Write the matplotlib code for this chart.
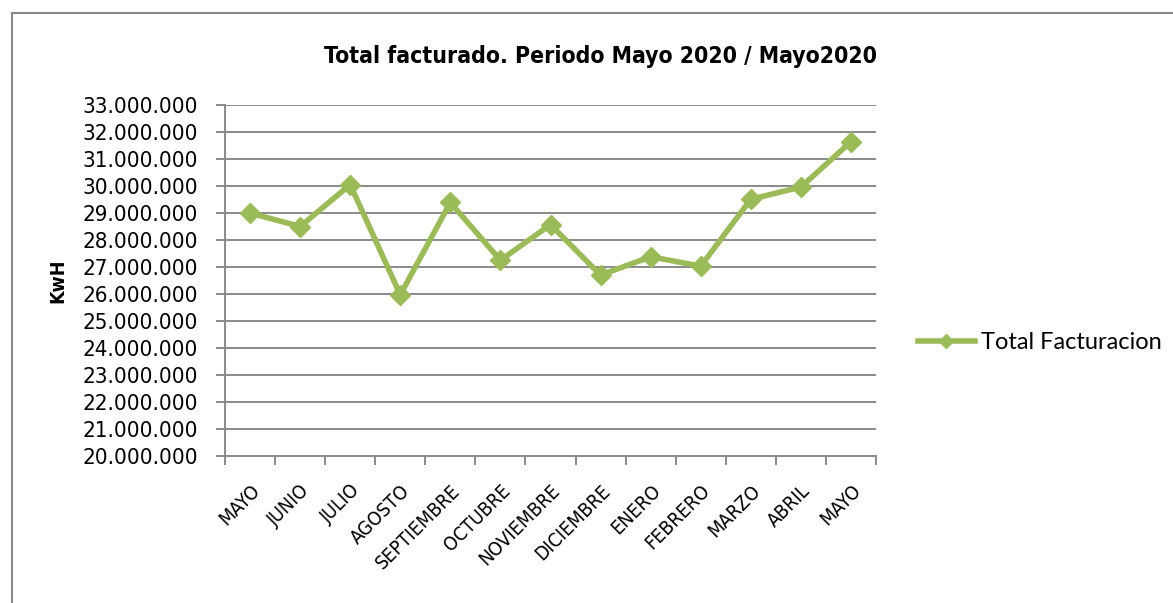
import matplotlib
matplotlib.use("Agg")
import matplotlib.pyplot as plt
from matplotlib.ticker import FuncFormatter, FixedLocator
from matplotlib.patches import Rectangle
from matplotlib.transforms import ScaledTranslation

# datos
meses = ['MAYO', 'JUNIO', 'JULIO', 'AGOSTO', 'SEPTIEMBRE', 'OCTUBRE', 'NOVIEMBRE',
         'DICIEMBRE', 'ENERO', 'FEBRERO', 'MARZO', 'ABRIL', 'MAYO']
total_facturacion = [29000000, 28500000, 30050000, 25970000, 29390000, 27250000, 28570000,
                     26700000, 27380000, 27030000, 29510000, 29960000, 31640000]

COLOR = '#9BBB59'
GRIS = '#8a8a8a'
COND = dict(family='DejaVu Sans', stretch='condensed')


def miles(v, pos):
    return f'{int(v):,}'.replace(',', '.')


def main():
    fig = plt.figure(figsize=(11.73, 6.03), dpi=100)
    fig.patches.append(Rectangle((12 / 1173, -0.1), 1.2, 1 - 13 / 603 + 0.1,
                                 transform=fig.transFigure, fill=False,
                                 edgecolor='#8a8a8a', linewidth=1.5))
    ax = fig.add_axes([225 / 1173, 1 - 456 / 603, 651 / 1173, 351 / 603])

    x = list(range(len(meses)))
    ax.plot(x, total_facturacion, color=COLOR, linewidth=4, marker='D',
            markersize=10, label='Total Facturacion')

    ax.set_xlim(-0.5, len(meses) - 0.5)
    ax.set_ylim(20000000, 33000000)
    ax.set_yticks(range(20000000, 33000001, 1000000))
    ax.yaxis.set_major_formatter(FuncFormatter(miles))
    ax.grid(axis='y', color=GRIS, linewidth=1.4)
    ax.set_axisbelow(True)

    ax.set_xticks(x)
    ax.set_xticklabels(meses, rotation=45, ha='right', rotation_mode='anchor',
                       fontsize=14, **COND)
    desplaza = ScaledTranslation(-5 / 100, 0, fig.dpi_scale_trans)
    for lab in ax.get_xticklabels():
        lab.set_transform(lab.get_transform() + desplaza)
    ax.xaxis.set_minor_locator(FixedLocator([i - 0.5 for i in range(len(meses) + 1)]))
    ax.tick_params(axis='x', which='major', length=0, pad=18)
    ax.tick_params(axis='x', which='minor', length=6.5, color=GRIS, width=1.4)
    ax.tick_params(axis='y', length=6.5, color=GRIS, width=1.4, labelsize=16, pad=13)
    for lab in ax.get_yticklabels():
        lab.set_family('DejaVu Sans')
        lab.set_stretch('condensed')

    for s in ['top', 'right']:
        ax.spines[s].set_visible(False)
    for s in ['left', 'bottom']:
        ax.spines[s].set_color(GRIS)
        ax.spines[s].set_linewidth(1.4)

    ax.set_ylabel('KwH', fontsize=14, fontweight='heavy', labelpad=11, **COND)
    fig.text(600 / 1173, 1 - 56 / 603, 'Total facturado. Periodo Mayo 2020 / Mayo2020',
             ha='center', va='center', fontsize=16.5, fontweight='bold', **COND)

    ax.legend(loc='center left', bbox_to_anchor=(1.032, 0.322), frameon=False,
              prop={'family': 'Lato', 'size': 17}, handlelength=2.4,
              handletextpad=0.25, markerscale=0.7)

    fig.savefig('out.png', dpi=100)


if __name__ == "__main__":
    main()
